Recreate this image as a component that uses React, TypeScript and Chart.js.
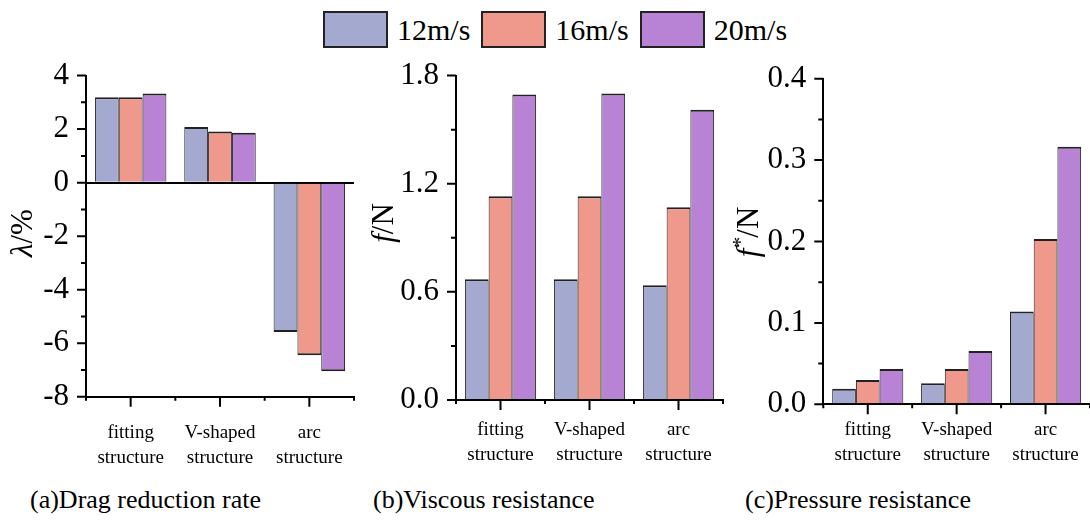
import React, { useEffect, useRef } from "react";
import { Chart, registerables } from "chart.js";

Chart.register(...registerables);

// ---- data ----
const categories = [
  ["fitting", "structure"],
  ["V-shaped", "structure"],
  ["arc", "structure"],
];
const seriesNames = ["12m/s", "16m/s", "20m/s"];
const seriesColors = ["#A3A9CF", "#EF998C", "#B883D5"];

// (a) drag reduction rate, %
const dragRate12 = [3.19, 2.08, -5.58];
const dragRate16 = [3.19, 1.91, -6.45];
const dragRate20 = [3.33, 1.86, -7.05];

// (b) viscous resistance, N
const viscous12 = [0.67, 0.67, 0.637];
const viscous16 = [1.13, 1.13, 1.07];
const viscous20 = [1.695, 1.7, 1.61];

// (c) pressure resistance, N
const pressure12 = [0.019, 0.026, 0.114];
const pressure16 = [0.03, 0.0435, 0.203];
const pressure20 = [0.0435, 0.0655, 0.3165];

const FONT = "'Liberation Serif', 'Times New Roman', serif";

type TitlePart = { text: string; italic?: boolean; sup?: boolean };

type Panel = {
  key: string;
  caption: string;
  captionLeft: number;
  box: { left: number; top: number; width: number; height: number };
  area: { left: number; right: number; top: number; bottom: number };
  yMin: number;
  yMax: number;
  major: number;
  minor: number;
  decimals: number;
  labelPad: number;
  zeroLine: boolean;
  series: number[][];
  title: TitlePart[];
  titleX: number;
  titleY: number;
};

const panels: Panel[] = [
  {
    key: "a",
    caption: "(a)Drag reduction rate",
    captionLeft: 30,
    box: { left: 0, top: 40, width: 370, height: 440 },
    area: { left: 86, right: 354, top: 70.7, bottom: 396.7 },
    yMin: -8,
    yMax: 4,
    major: 2,
    minor: 1,
    decimals: 0,
    labelPad: 16,
    zeroLine: true,
    series: [dragRate12, dragRate16, dragRate20],
    title: [{ text: "λ", italic: true }, { text: "/%" }],
    titleX: 24,
    titleY: 233,
  },
  {
    key: "b",
    caption: "(b)Viscous resistance",
    captionLeft: 373,
    box: { left: 370, top: 40, width: 360, height: 440 },
    area: { left: 456, right: 723, top: 74, bottom: 400 },
    yMin: 0,
    yMax: 1.8,
    major: 0.6,
    minor: 0.3,
    decimals: 1,
    labelPad: 10,
    zeroLine: false,
    series: [viscous12, viscous16, viscous20],
    title: [{ text: "f", italic: true }, { text: "/N" }],
    titleX: 385,
    titleY: 223,
  },
  {
    key: "c",
    caption: "(c)Pressure resistance",
    captionLeft: 745,
    box: { left: 730, top: 40, width: 360, height: 440 },
    area: { left: 823.3, right: 1090, top: 78.7, bottom: 404.3 },
    yMin: 0,
    yMax: 0.4,
    major: 0.1,
    minor: 0.05,
    decimals: 1,
    labelPad: 5,
    zeroLine: false,
    series: [pressure12, pressure16, pressure20],
    title: [{ text: "f", italic: true }, { text: "*", italic: true, sup: true }, { text: "/N" }],
    titleX: 750,
    titleY: 232,
  },
];

const isMajor = (v: number, step: number) =>
  Math.abs(v / step - Math.round(v / step)) < 1e-6;

// Outward tick marks: long/short on the value axis, long at category centres
// and short at category boundaries on the bottom axis.
const axisTicks = {
  id: "axisTicks",
  afterDraw(chart: any) {
    const { ctx, chartArea } = chart;
    const x = chart.scales.x;
    const y = chart.scales.y;
    ctx.save();
    ctx.strokeStyle = "#000";
    ctx.lineWidth = 2;
    ctx.beginPath();
    y.ticks.forEach((t: any) => {
      const py = y.getPixelForValue(t.value);
      const len = t.label ? 9 : 5;
      ctx.moveTo(chartArea.left, py);
      ctx.lineTo(chartArea.left - len, py);
    });
    const n = x.ticks.length;
    for (let i = 0; i < n; i++) {
      const px = x.getPixelForValue(i);
      ctx.moveTo(px, chartArea.bottom);
      ctx.lineTo(px, chartArea.bottom + 10);
    }
    for (let i = 0; i <= n; i++) {
      const px = x.getPixelForValue(i - 0.5);
      ctx.moveTo(px, chartArea.bottom);
      ctx.lineTo(px, chartArea.bottom + 4);
    }
    ctx.stroke();
    ctx.restore();
  },
};

// Rotated value-axis title with mixed italic / superscript runs.
const axisTitle = {
  id: "axisTitle",
  afterDraw(chart: any, _args: any, opts: any) {
    const parts: TitlePart[] = opts.parts || [];
    const { ctx } = chart;
    const fontOf = (p: TitlePart) =>
      `${p.italic ? "italic " : ""}${p.sup ? 22 : 31}px ${FONT}`;
    ctx.save();
    ctx.fillStyle = "#000";
    ctx.textBaseline = "middle";
    ctx.textAlign = "left";
    let total = 0;
    const widths = parts.map((p) => {
      ctx.font = fontOf(p);
      const w = ctx.measureText(p.text).width;
      total += w;
      return w;
    });
    ctx.translate(opts.x, opts.y);
    ctx.rotate(-Math.PI / 2);
    let cx = -total / 2;
    parts.forEach((p, i) => {
      ctx.font = fontOf(p);
      ctx.fillText(p.text, cx, p.sup ? -9 : 0);
      cx += widths[i];
    });
    ctx.restore();
  },
};

function PanelChart({ panel }: { panel: Panel }) {
  const ref = useRef<HTMLCanvasElement>(null);

  useEffect(() => {
    const { box, area } = panel;
    let chart: Chart | null = null;
    let cancelled = false;

    const build = () => {
      if (cancelled || !ref.current) return;
      chart = new Chart(ref.current, {
        type: "bar",
        data: {
          labels: categories,
          datasets: panel.series.map((values, i) => ({
            label: seriesNames[i],
            data: values,
            backgroundColor: seriesColors[i],
            borderColor: "#222",
            borderWidth: { top: 2, bottom: 2, left: 1, right: 1 },
            borderSkipped: "start",
            categoryPercentage: 0.8,
            barPercentage: 1.0,
          })),
        },
        options: {
          animation: false,
          responsive: false,
          devicePixelRatio: 1,
          layout: {
            padding: {
              left: 0,
              bottom: 0,
              top: area.top - box.top,
              right: box.left + box.width - area.right,
            },
          },
          plugins: {
            legend: { display: false },
            tooltip: { enabled: false },
            axisTitle: {
              parts: panel.title,
              x: panel.titleX - box.left,
              y: panel.titleY - box.top,
            },
          } as any,
          scales: {
            x: {
              grid: { display: false },
              border: { display: true, color: "#000", width: 2 },
              ticks: {
                color: "#000",
                padding: panel.labelPad,
                maxRotation: 0,
                autoSkip: false,
                font: { family: FONT, size: 19, lineHeight: 1.316 },
              },
              afterFit: (s: any) => {
                s.height = box.top + box.height - area.bottom;
              },
            },
            y: {
              min: panel.yMin,
              max: panel.yMax,
              grid: {
                display: true,
                drawTicks: false,
                lineWidth: 2,
                color: (c: any) =>
                  panel.zeroLine && c.tick && Math.abs(c.tick.value) < 1e-9
                    ? "#000"
                    : "rgba(0,0,0,0)",
              },
              border: { display: true, color: "#000", width: 2 },
              ticks: {
                stepSize: panel.minor,
                autoSkip: false,
                color: "#000",
                padding: 17,
                font: { family: FONT, size: 31 },
                callback: (v: any) =>
                  isMajor(Number(v), panel.major) ? Number(v).toFixed(panel.decimals) : "",
              },
              afterFit: (s: any) => {
                s.width = area.left - box.left;
              },
            },
          },
        },
        plugins: [axisTicks, axisTitle],
      });
    };

    const fonts = (document as any).fonts;
    if (fonts && fonts.load) {
      Promise.all([
        fonts.load(`31px ${FONT}`),
        fonts.load(`italic 31px ${FONT}`),
      ])
        .catch(() => null)
        .then(build);
    } else {
      build();
    }

    return () => {
      cancelled = true;
      if (chart) chart.destroy();
    };
  }, [panel]);

  return (
    <canvas
      ref={ref}
      width={panel.box.width}
      height={panel.box.height}
      style={{
        position: "absolute",
        left: panel.box.left,
        top: panel.box.top,
        width: panel.box.width,
        height: panel.box.height,
      }}
    />
  );
}

export default function App() {
  useEffect(() => {
    document.body.style.margin = "0";
  }, []);

  return (
    <div
      style={{
        position: "relative",
        width: 1090,
        height: 522,
        background: "#fff",
        overflow: "hidden",
        fontFamily: FONT,
        color: "#000",
      }}
    >
      <div
        style={{
          position: "absolute",
          left: 323,
          top: 11,
          display: "flex",
          alignItems: "center",
          height: 37,
        }}
      >
        {seriesNames.map((name, i) => (
          <React.Fragment key={name}>
            <div
              style={{
                width: 65,
                height: 37,
                boxSizing: "border-box",
                border: "2px solid #222",
                background: seriesColors[i],
              }}
            />
            <span
              style={{
                fontSize: 30,
                lineHeight: "37px",
                marginLeft: 9,
                marginRight: i < seriesNames.length - 1 ? 11 : 0,
                whiteSpace: "nowrap",
              }}
            >
              {name}
            </span>
          </React.Fragment>
        ))}
      </div>

      {panels.map((p) => (
        <PanelChart key={p.key} panel={p} />
      ))}

      {panels.map((p) => (
        <div
          key={"cap-" + p.key}
          style={{
            position: "absolute",
            left: p.captionLeft,
            top: 487,
            fontSize: 26,
            lineHeight: "26px",
            whiteSpace: "nowrap",
          }}
        >
          {p.caption}
        </div>
      ))}
    </div>
  );
}
